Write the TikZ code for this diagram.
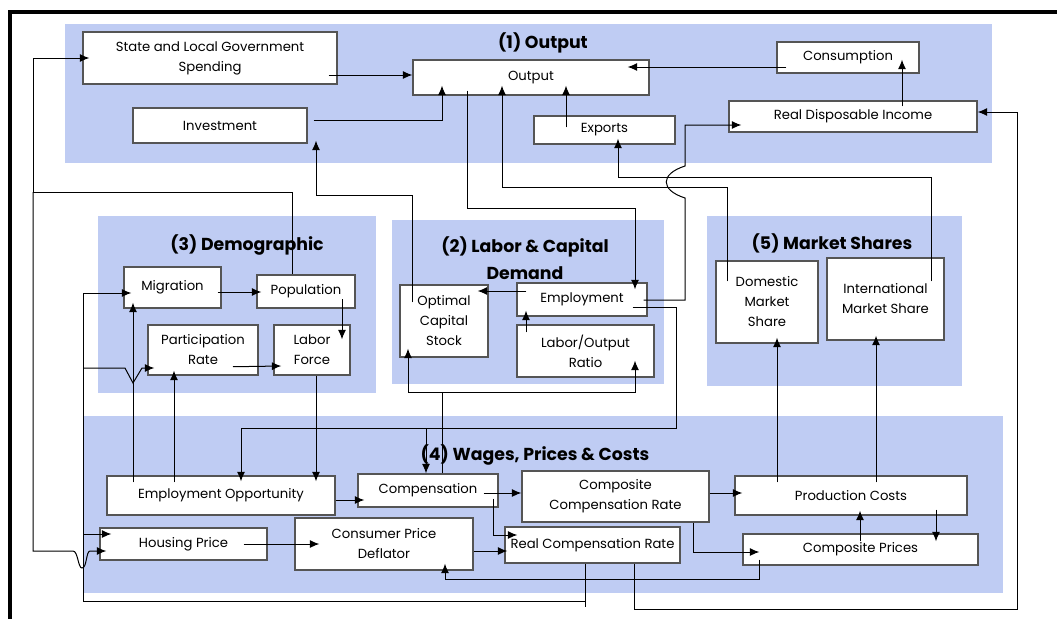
\documentclass[tikz,border=0pt]{standalone}
\usepackage{fontspec}
\setmainfont{Poppins}
\usetikzlibrary{arrows.meta,calc}
\definecolor{panel}{RGB}{191,204,243}
\definecolor{boxline}{RGB}{85,85,85}
\newcommand\bxnode[6]{\node[bx,minimum width={(#4-#2)*0.75pt},minimum height={(#5-#3)*0.75pt}] (#1) at ({(#2+#4)/2},{(#3+#5)/2}) {#6};}
\begin{document}
\begin{tikzpicture}[x=0.75pt,y=-0.75pt,
  bx/.style={draw=boxline,line width=1.1pt,fill=white,align=center,inner sep=1pt,font=\fontsize{9.9}{15}\selectfont},
  ttl/.style={align=center,font=\fontsize{13}{20}\selectfont\bfseries},
  arr/.style={draw,line width=0.75pt,-{Latex[length=7pt,width=6pt]}},
  ln/.style={draw,line width=0.75pt},
  pnl/.style={fill=panel}]
\useasboundingbox (0,0) rectangle (1057,618);
\fill[white] (0,0) rectangle (1057,618);
% frame
\draw[line width=2.4pt] (10,620) -- (10,12) -- (1060,12);
% panels
\fill[pnl] (65,24) rectangle (992,163);
\fill[pnl] (98,216) rectangle (376,393);
\fill[pnl] (392,220) rectangle (664,384);
\fill[pnl] (707,216) rectangle (962,386);
\fill[pnl] (83,416) rectangle (1003,593);
% titles
\node[ttl] (t1) at (543,43) {(1) Output};
\node[ttl] (t3) at (247,245) {(3) Demographic};
\node[ttl] (t2) at (525,258) {(2) Labor \& Capital\\Demand};
\node[ttl] (t5) at (832,243) {(5) Market Shares};
\node[ttl] (t4) at (535,455) {(4) Wages, Prices \& Costs};
% boxes
\bxnode{sl}{83}{32}{337}{84}{State and Local Government\\Spending}
\bxnode{inv}{133}{108}{307}{143}{Investment}
\bxnode{out}{413}{60}{649}{95}{Output}
\bxnode{exp}{534}{116}{675}{144}{Exports}
\bxnode{con}{777}{42}{919}{73}{Consumption}
\bxnode{rdi}{729}{101}{977}{132}{Real Disposable Income}
\bxnode{mig}{124}{267}{221}{308}{Migration}
\bxnode{pop}{257}{275}{355}{308}{Population}
\bxnode{par}{148}{325}{258}{375}{Participation\\Rate}
\bxnode{lab}{274}{325}{350}{375}{Labor\\Force}
\bxnode{ocs}{400}{285}{488}{357}{Optimal\\Capital\\Stock}
\bxnode{emp}{517}{283}{647}{316}{Employment}
\bxnode{lor}{517}{325}{654}{377}{Labor/Output\\Ratio}
\bxnode{dms}{716}{261}{818}{343}{Domestic\\Market\\Share}
\bxnode{ims}{827}{258}{944}{340}{International\\Market Share}
\bxnode{eo}{107}{476}{335}{515}{Employment Opportunity}
\bxnode{hp}{100}{528}{267}{560}{Housing Price}
\bxnode{cpd}{295}{518}{473}{570}{Consumer Price\\Deflator}
\bxnode{comp}{358}{474}{498}{507}{Compensation}
\bxnode{ccr}{522}{471}{709}{522}{Composite\\Compensation Rate}
\bxnode{rcr}{505}{527}{680}{563}{Real Compensation Rate}
\bxnode{pc}{735}{476}{967}{515}{Production Costs}
\bxnode{cp}{743}{534}{978}{565}{Composite Prices}
% connectors: output block
\draw[arr] ($(sl.east|-0,75)+(-9,0)$) -- (out.west|-0,75);
\draw[arr] ($(inv.east|-0,120)+(6,0)$) -| ($(out.south-|442,0)+(0,-10)$);
\draw[arr] ($(exp.north-|566,0)+(0,12)$) -- ($(out.south-|566,0)+(0,-10)$);
\draw[arr] ($(con.west|-0,67)+(10,0)$) -- ($(out.east|-0,67)+(-22,0)$);
\draw[arr] ($(rdi.north-|902,0)+(0,6)$) -- ($(con.south-|902,0)+(0,-14)$);
\draw[arr] ($(emp.east|-0,300)+(-4,0)$) -- (685,300) -- (685,198) .. controls (660,190) and (660,174) .. (685,166) -- (685,125) -- ($(rdi.west|-0,125)+(13,0)$);
\draw[arr] ($(ims.north-|931,0)+(0,24)$) -- (931,177) -| ($(exp.south-|618,0)+(0,-6)$);
\draw[arr] ($(dms.north-|727,0)+(0,21)$) -- (727,187) -| ($(out.south-|502,0)+(0,-10)$);
\draw[arr] ($(out.south-|467,0)+(0,-5)$) -- (467,208) -| ($(emp.north-|635,0)+(0,7)$);
\draw[arr] ($(ocs.north-|412,0)+(0,18)$) -- (412,195) -| ($(inv.south-|316,0)+(0,-3)$);
% population feedback
\draw[ln] (pop.north-|292,0) -- (292,192) -- (33,192);
\draw[arr] (33,192) |- ($(sl.west|-0,58)+(7,0)$);
\draw[arr] (33,192) -- (33,551) -- (73,551) .. controls (78,551) and (78,568) .. (82,568) .. controls (87,568) and (86,551) .. (90,551) -- ($(hp.west|-0,551)+(7,0)$);
% real compensation rate feedback
\draw[ln] (rcr.south-|585,0) -- (585,607);
\draw[ln] (585,601) -- (83,601) -- (83,293);
\draw[arr] (83,293) -- ($(mig.west|-0,293)+(8,0)$);
\draw[arr] (83,368) -- (125,368) -- (133,383) -- (142,368) -- ($(par.west|-0,368)+(7,0)$);
\draw[arr] (83,534) -- ($(hp.west|-0,534)+(12,0)$);
\draw[arr] (rcr.south-|634,0) -- (634,609) -- (1017,609) -- (1017,112) -- (rdi.east|-0,112);
% demographic
\draw[arr] ($(mig.east|-0,292)+(-4,0)$) -- ($(pop.west|-0,292)+(5,0)$);
\draw[arr] ($(pop.north-|342,0)+(0,25)$) -- ($(lab.north-|342,0)+(0,15)$);
\draw[arr] ($(par.south-|233,0)+(0,-9)$) -- ($(lab.west|-0,366)+(8,0)$);
\draw[arr] (lab.south-|316,0) -- ($(eo.north-|316,0)+(0,6)$);
\draw[arr] ($(eo.north-|133,0)+(0,7)$) -- ($(mig.south-|133,0)+(0,-6)$);
\draw[arr] ($(eo.north-|174,0)+(0,7)$) -- ($(par.south-|174,0)+(0,-5)$);
% labor & capital
\draw[arr] ($(emp.west|-0,291)+(10,0)$) -- ($(ocs.east|-0,291)+(-11,0)$);
\draw[arr] ($(lor.north-|526,0)+(0,8)$) -- ($(emp.south-|526,0)+(0,-6)$);
\draw[ln] (comp.north-|442,0) -- (442,392);
\draw[arr] (442,392) -| ($(ocs.south-|408,0)+(0,-9)$);
\draw[arr] (442,392) -| ($(lor.south-|635,0)+(0,-17)$);
\draw[arr] ($(emp.east|-0,307)+(-15,0)$) -- (676,307) -- (676,428) -| ($(eo.north-|241,0)+(0,6)$);
\draw[arr] (426,428) -- (comp.north-|426,0);
% wages, prices & costs
\draw[arr] (eo.east|-0,500) -- ($(comp.west|-0,500)+(7,0)$);
\draw[arr] ($(comp.east|-0,493)+(-15,0)$) -- (ccr.west|-0,493);
\draw[arr] ($(comp.south-|493,0)+(0,-9)$) |- ($(rcr.west|-0,535)+(13,0)$);
\draw[arr] (cpd.east|-0,551) -- ($(rcr.west|-0,551)+(3,0)$);
\draw[arr] ($(hp.east|-0,544)+(-24,0)$) -- ($(cpd.west|-0,544)+(25,0)$);
\draw[arr] ($(cp.south-|759,0)+(0,-6)$) -- (759,579) -| ($(cpd.south-|445,0)+(0,-7)$);
\draw[arr] (ccr.south-|693,0) |- ($(cp.west|-0,552)+(17,0)$);
\draw[arr] (ccr.east|-0,493) -- ($(pc.west|-0,493)+(8,0)$);
\draw[arr] ($(pc.south-|936,0)+(0,-6)$) -- ($(cp.north-|936,0)+(0,8)$);
\draw[arr] ($(cp.north-|860,0)+(0,8)$) -- ($(pc.south-|860,0)+(0,-5)$);
\draw[arr] ($(pc.north-|777,0)+(0,7)$) -- ($(dms.south-|777,0)+(0,-6)$);
\draw[arr] ($(pc.north-|876,0)+(0,7)$) -- ($(ims.south-|876,0)+(0,-5)$);
\end{tikzpicture}
\end{document}
